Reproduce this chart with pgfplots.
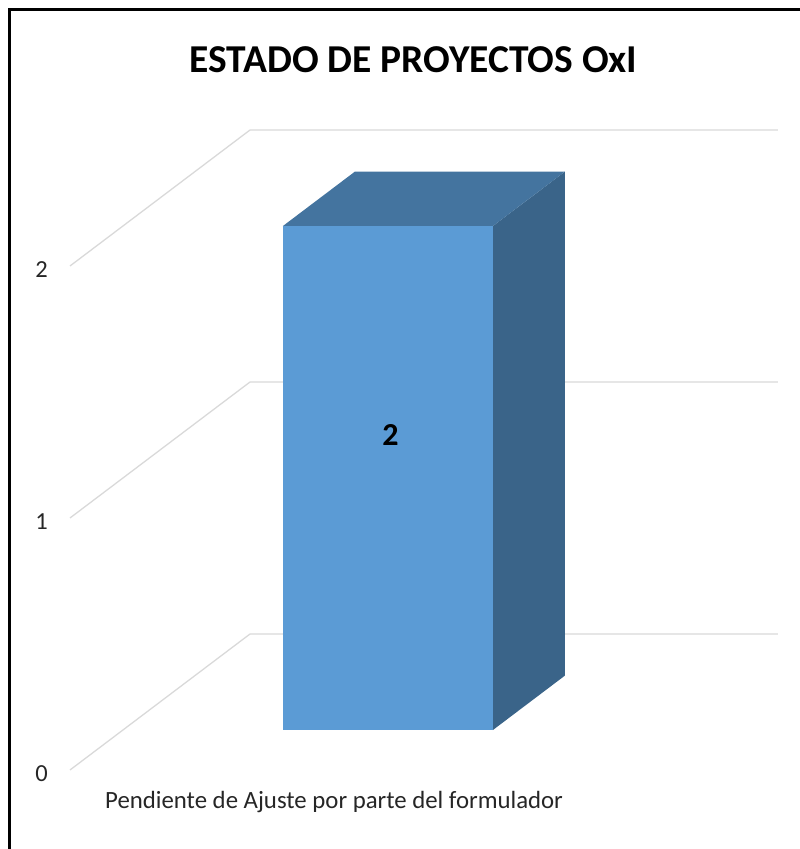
\documentclass[border=0pt]{standalone}
\usepackage{pgfplots}
\pgfplotsset{compat=1.18}
\usepackage{fontspec}
\setmainfont{Carlito}

\definecolor{barfront}{HTML}{5B9BD5}
\definecolor{bartop}{HTML}{44749F}
\definecolor{barside}{HTML}{3A6489}
\definecolor{gridc}{HTML}{D9D9D9}

\begin{document}
\begin{tikzpicture}
\begin{axis}[
  x={(1pt,0pt)}, y={(180pt,136pt)}, z={(0pt,252pt)},
  xmin=0, xmax=600, ymin=0, ymax=1, zmin=-0.3, zmax=2.4,
  hide axis, clip=false, no marks,
]
% back-wall / side-wall gridlines at 0, 1, 2
\addplot3[gridc, line width=1.3pt] coordinates {(70,0,0) (70,1,0) (598,1,0)};
\addplot3[gridc, line width=1.3pt] coordinates {(70,0,1) (70,1,1) (598,1,1)};
\addplot3[gridc, line width=1.3pt] coordinates {(70,0,2) (70,1,2) (598,1,2)};
% bar (value 2): right side, top, front
\addplot3[draw=none, fill=barside] coordinates {(440,0.294,0) (440,0.694,0) (440,0.694,2) (440,0.294,2)} -- cycle;
\addplot3[draw=none, fill=bartop] coordinates {(230,0.294,2) (440,0.294,2) (440,0.694,2) (230,0.694,2)} -- cycle;
\addplot3[draw=none, fill=barfront] coordinates {(230,0.294,0) (440,0.294,0) (440,0.294,2) (230,0.294,2)} -- cycle;
% data label
\node[anchor=base, inner sep=0pt, font=\fontsize{32}{38}\selectfont\bfseries] at (axis cs:337.5,0.294,1.131) {2};
% tick labels
\node[anchor=base, inner sep=0pt, font=\fontsize{24.5}{29}\selectfont, text=black!85] at (axis cs:41.5,0,-0.0437) {0};
\node[anchor=base, inner sep=0pt, font=\fontsize{24.5}{29}\selectfont, text=black!85] at (axis cs:41.5,0,0.9563) {1};
\node[anchor=base, inner sep=0pt, font=\fontsize{24.5}{29}\selectfont, text=black!85] at (axis cs:41.5,0,1.9563) {2};
% category label
\node[anchor=base west, inner sep=0pt, font=\fontsize{24.8}{30}\selectfont, text=black!85] at (axis cs:105,0,-0.1536) {Pendiente de Ajuste por parte del formulador};
% title
\node[anchor=base, inner sep=0pt, font=\fontsize{39.5}{47}\selectfont\bfseries] at (axis cs:413.5,0,2.7698) {ESTADO DE PROYECTOS OxI};
% chart frame
\draw[line width=3pt] (axis cs:10,0,-0.5) -- (axis cs:10,0,3.016) -- (axis cs:820,0,3.016);
\coordinate (tl) at (axis cs:0,0,3.0556);
\coordinate (br) at (axis cs:800,0,-0.3135);
\end{axis}
\pgfresetboundingbox
\path[use as bounding box] (tl) rectangle (br);
\end{tikzpicture}
\end{document}
